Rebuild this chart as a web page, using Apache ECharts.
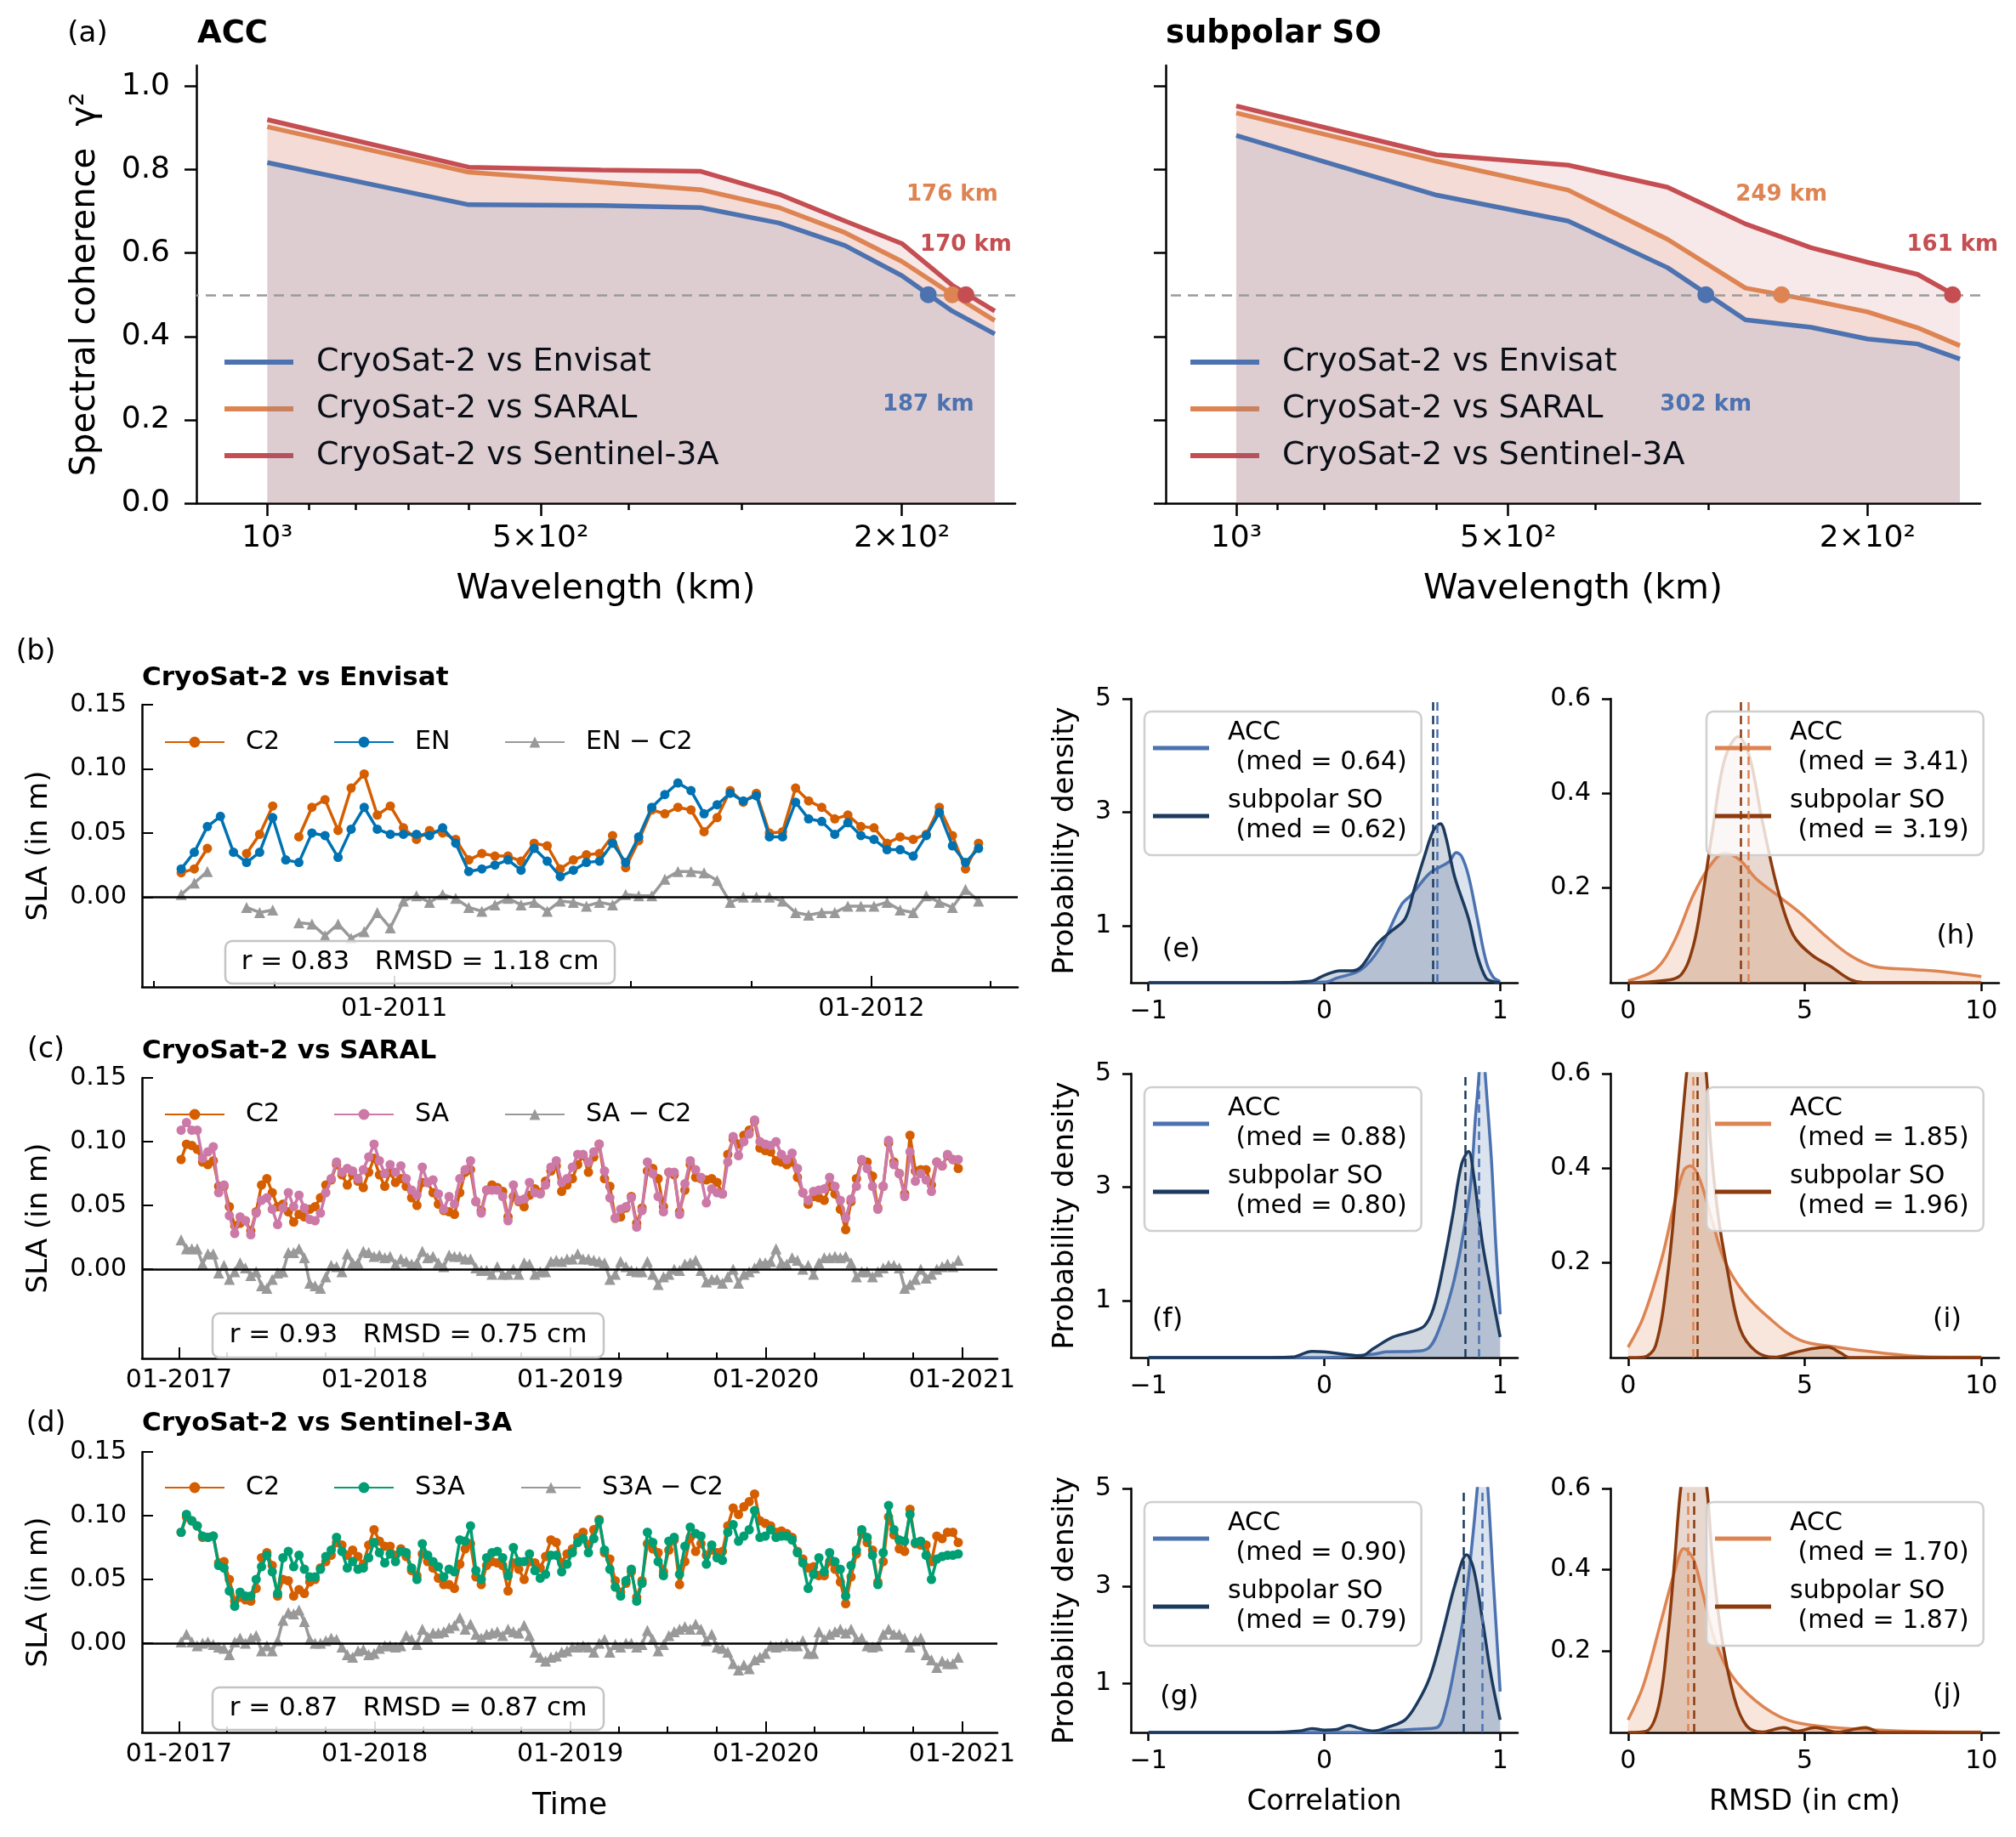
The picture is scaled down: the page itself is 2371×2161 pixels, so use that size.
<!DOCTYPE html>
<html>
<head>
<meta charset="utf-8">
<title>CryoSat-2 cross-comparison</title>
<script src="https://cdn.jsdelivr.net/npm/echarts@6.0.0/dist/echarts.min.js"></script>
<style>
html, body { margin: 0; padding: 0; background: #fff; }
#chart { width: 2371px; height: 2161px; }
</style>
</head>
<body>
<div id="chart"></div>
<script>
var FONT = '"DejaVu Sans", Verdana, sans-serif';
var DAY = 86400000;

// ---- (a) spectral coherence ----
var wavelengthKm = [1000, 600, 429, 333, 273, 231, 200, 176, 158];
var accEnvisat = [0.817, 0.716, 0.714, 0.709, 0.672, 0.618, 0.546, 0.461, 0.406];
var accSaral   = [0.903, 0.794, 0.770, 0.752, 0.709, 0.649, 0.580, 0.501, 0.438];
var accS3a     = [0.920, 0.806, 0.799, 0.796, 0.741, 0.677, 0.623, 0.523, 0.461];
var soEnvisat  = [0.882, 0.739, 0.677, 0.565, 0.440, 0.422, 0.394, 0.382, 0.346];
var soSaral    = [0.936, 0.820, 0.751, 0.633, 0.516, 0.487, 0.459, 0.421, 0.378];
var soS3a      = [0.953, 0.836, 0.811, 0.758, 0.670, 0.613, 0.578, 0.549, 0.492];
var accCrossKm = [187, 176, 170];
var soCrossKm  = [302, 249, 161];
var crossLabelY = [0.235, 0.74, 0.62];
var pairNames  = ['CryoSat-2 vs Envisat', 'CryoSat-2 vs SARAL', 'CryoSat-2 vs Sentinel-3A'];
var pairColors = ['#4c72b0', '#dd8452', '#c44e52'];
var waveTickKm = [1000, 500, 200];
var waveTickLabels = ['10³', '5×10²', '2×10²'];
var waveMinorKm = [900, 800, 700, 600, 400, 300];
var coherenceTicks = [0, 0.2, 0.4, 0.6, 0.8, 1.0];

// ---- (b) CryoSat-2 vs Envisat, 10-day samples from 2010-07-22 ----
var bStart = [2010, 7, 22];
var bC2 = [0.019,0.022,0.038,null,null,0.034,0.049,0.071,null,0.047,
  0.070,0.076,0.052,0.085,0.096,0.064,0.071,0.054,0.045,0.052,
  0.050,0.045,0.029,0.034,0.032,0.032,0.028,0.042,0.040,0.022,
  0.029,0.033,0.034,0.048,0.023,0.044,0.068,0.065,0.070,0.068,
  0.051,0.062,0.083,0.074,0.081,0.050,0.051,0.085,0.075,0.070,
  0.061,0.064,0.055,0.054,0.042,0.047,0.045,0.049,0.070,0.048,
  0.022,0.042];
var bEN = [0.022,0.035,0.055,0.063,0.035,0.027,0.035,0.062,0.029,0.027,
  0.050,0.048,0.031,0.053,0.070,0.053,0.049,0.049,0.049,0.048,
  0.054,0.042,0.020,0.022,0.025,0.029,0.021,0.038,0.028,0.016,
  0.021,0.027,0.028,0.042,0.027,0.047,0.070,0.080,0.089,0.083,
  0.065,0.072,0.081,0.075,0.079,0.047,0.047,0.074,0.061,0.059,
  0.049,0.058,0.048,0.045,0.037,0.037,0.032,0.048,0.066,0.040,
  0.027,0.038];
var bDiff = [0.002,0.011,0.020,null,null,-0.008,-0.012,-0.010,null,-0.020,
  -0.021,-0.030,-0.021,-0.032,-0.027,-0.012,-0.024,-0.003,0.001,-0.004,
  0.002,-0.001,-0.008,-0.011,-0.006,-0.001,-0.006,-0.004,-0.011,-0.003,
  -0.004,-0.007,-0.004,-0.006,0.002,0.001,0.001,0.014,0.020,0.020,
  0.019,0.013,-0.004,0.000,0.000,0.000,-0.003,-0.012,-0.014,-0.012,
  -0.012,-0.007,-0.007,-0.007,-0.004,-0.010,-0.012,0.001,-0.004,-0.008,
  0.006,-0.003];
var bRange = [[2010, 6, 22], [2012, 4, 22]];
var bYearTicks = [[2011, 1], [2012, 1]];
var bQuarterTicks = [[2010, 7], [2010, 10], [2011, 1], [2011, 4], [2011, 7], [2011, 10], [2012, 1], [2012, 4]];

// ---- (c) CryoSat-2 vs SARAL and (d) CryoSat-2 vs Sentinel-3A, 10-day samples from 2017-01-05 ----
var cdStart = [2017, 1, 5];
var cC2 = [0.086,0.098,0.097,0.094,0.084,0.082,0.085,0.065,0.065,0.049,
  0.034,0.036,0.038,0.030,0.045,0.066,0.071,0.060,0.049,0.051,
  0.045,0.037,0.043,0.041,0.047,0.049,0.056,0.066,0.070,0.082,
  0.074,0.066,0.074,0.069,0.064,0.076,0.087,0.074,0.065,0.076,
  0.068,0.071,0.065,0.056,0.050,0.068,0.068,0.060,0.051,0.046,
  0.045,0.043,0.060,0.076,0.078,0.053,0.046,0.062,0.066,0.064,
  0.061,0.041,0.057,0.053,0.049,0.058,0.063,0.060,0.069,0.077,
  0.081,0.061,0.066,0.071,0.082,0.089,0.076,0.088,0.098,0.071,
  0.065,0.040,0.041,0.048,0.057,0.036,0.048,0.077,0.079,0.071,
  0.049,0.076,0.074,0.045,0.062,0.082,0.072,0.071,0.070,0.071,
  0.068,0.059,0.090,0.102,0.098,0.105,0.109,0.116,0.095,0.093,
  0.092,0.085,0.084,0.082,0.084,0.072,0.060,0.051,0.057,0.056,
  0.054,0.065,0.059,0.047,0.031,0.053,0.071,0.085,0.084,0.073,
  0.048,0.065,0.099,0.084,0.075,0.059,0.105,0.077,0.078,0.078,
  0.066,0.084,0.081,0.089,0.086,0.079];
var cSA = [0.109,0.115,0.109,0.109,0.087,0.092,0.096,0.060,0.066,0.042,
  0.028,0.041,0.038,0.027,0.044,0.054,0.056,0.047,0.035,0.048,
  0.060,0.049,0.058,0.048,0.039,0.038,0.044,0.060,0.071,0.084,
  0.076,0.079,0.077,0.071,0.078,0.088,0.098,0.085,0.075,0.082,
  0.076,0.081,0.071,0.062,0.058,0.080,0.068,0.070,0.059,0.047,
  0.057,0.051,0.071,0.078,0.085,0.053,0.044,0.062,0.062,0.062,
  0.057,0.038,0.066,0.054,0.055,0.068,0.060,0.059,0.066,0.080,
  0.085,0.068,0.071,0.080,0.090,0.090,0.084,0.092,0.098,0.077,
  0.056,0.040,0.047,0.049,0.056,0.033,0.046,0.084,0.075,0.057,
  0.045,0.076,0.076,0.043,0.067,0.085,0.078,0.072,0.052,0.063,
  0.060,0.059,0.084,0.104,0.089,0.100,0.106,0.117,0.100,0.098,
  0.097,0.100,0.090,0.086,0.091,0.079,0.060,0.054,0.061,0.062,
  0.063,0.072,0.065,0.054,0.040,0.055,0.065,0.086,0.079,0.065,
  0.047,0.065,0.101,0.082,0.075,0.057,0.092,0.069,0.075,0.070,
  0.061,0.084,0.081,0.090,0.086,0.086];
var cDiff = [0.023,0.016,0.016,0.016,0.004,0.012,0.012,-0.003,0.003,-0.008,
  -0.002,0.005,0.001,-0.005,-0.002,-0.013,-0.015,-0.008,-0.003,-0.002,
  0.013,0.013,0.016,0.009,-0.011,-0.013,-0.015,-0.006,0.003,0.002,
  -0.002,0.012,0.005,0.005,0.014,0.013,0.010,0.011,0.009,0.010,
  0.004,0.008,0.006,0.004,0.005,0.014,0.009,0.010,0.005,0.002,
  0.011,0.010,0.010,0.008,0.008,0.001,-0.001,-0.001,-0.004,0.002,
  -0.004,-0.004,0.000,-0.004,0.005,0.004,-0.004,-0.002,-0.002,0.006,
  0.007,0.006,0.008,0.008,0.012,0.008,0.008,0.007,0.006,0.005,
  -0.008,-0.004,0.006,0.002,-0.001,-0.002,-0.002,0.006,-0.004,-0.012,
  -0.006,-0.004,0.000,-0.001,0.004,0.005,0.007,-0.001,-0.010,-0.008,
  -0.008,-0.011,-0.006,0.000,-0.011,-0.004,-0.002,0.001,0.005,0.005,
  0.006,0.016,0.005,0.004,0.009,0.007,0.000,0.003,-0.004,0.005,
  0.009,0.009,0.010,0.009,0.010,0.005,-0.006,-0.002,-0.002,-0.006,
  -0.002,0.001,0.003,0.003,0.001,-0.015,-0.012,-0.008,0.000,-0.007,
  -0.004,0.000,0.002,0.004,0.002,0.007];
var dC2 = [0.087,0.099,0.096,0.092,0.083,0.083,0.084,0.063,0.064,0.050,
  0.033,0.036,0.034,0.033,0.043,0.067,0.071,0.061,0.037,0.050,
  0.049,0.037,0.042,0.039,0.048,0.050,0.059,0.064,0.069,0.079,
  0.077,0.069,0.073,0.068,0.062,0.077,0.089,0.080,0.076,0.076,
  0.069,0.074,0.068,0.057,0.053,0.070,0.064,0.059,0.051,0.046,
  0.046,0.043,0.062,0.074,0.078,0.052,0.046,0.061,0.064,0.063,
  0.061,0.041,0.063,0.058,0.050,0.064,0.063,0.059,0.068,0.081,
  0.079,0.063,0.070,0.074,0.083,0.087,0.077,0.089,0.097,0.071,
  0.066,0.049,0.040,0.047,0.056,0.036,0.049,0.078,0.074,0.071,
  0.056,0.073,0.081,0.046,0.064,0.083,0.072,0.078,0.069,0.073,
  0.071,0.072,0.092,0.106,0.101,0.107,0.111,0.117,0.096,0.094,
  0.092,0.087,0.088,0.086,0.083,0.072,0.066,0.059,0.060,0.053,
  0.053,0.064,0.058,0.048,0.031,0.052,0.070,0.086,0.079,0.073,
  0.048,0.064,0.099,0.085,0.074,0.072,0.105,0.078,0.077,0.077,
  0.064,0.084,0.082,0.087,0.087,0.079];
var dS3A = [0.087,0.101,0.096,0.092,0.084,0.083,0.084,0.061,0.059,0.041,
  0.029,0.040,0.037,0.037,0.050,0.060,0.069,0.056,0.039,0.067,
  0.072,0.060,0.069,0.058,0.052,0.052,0.058,0.068,0.073,0.083,
  0.072,0.059,0.064,0.058,0.059,0.067,0.079,0.071,0.063,0.070,
  0.064,0.072,0.071,0.059,0.050,0.078,0.069,0.064,0.060,0.052,
  0.058,0.056,0.081,0.080,0.092,0.057,0.050,0.067,0.071,0.072,
  0.067,0.053,0.075,0.064,0.064,0.070,0.057,0.051,0.054,0.069,
  0.069,0.056,0.062,0.071,0.079,0.082,0.071,0.082,0.096,0.073,
  0.058,0.044,0.037,0.049,0.058,0.033,0.047,0.087,0.079,0.064,
  0.053,0.080,0.083,0.054,0.076,0.091,0.086,0.084,0.062,0.077,
  0.067,0.065,0.087,0.093,0.080,0.084,0.089,0.104,0.083,0.084,
  0.089,0.083,0.084,0.084,0.081,0.071,0.063,0.043,0.054,0.067,
  0.056,0.071,0.064,0.058,0.037,0.061,0.073,0.089,0.083,0.069,
  0.046,0.071,0.108,0.089,0.081,0.080,0.101,0.079,0.080,0.069,
  0.050,0.066,0.068,0.069,0.069,0.070];
var dDiff = [0.001,0.007,0.001,-0.002,0.000,0.001,-0.001,-0.003,-0.004,-0.009,
  0.001,0.004,0.000,0.004,0.006,-0.006,-0.002,-0.006,0.002,0.018,
  0.024,0.023,0.026,0.017,0.003,0.000,0.000,0.002,0.004,0.003,
  -0.003,-0.009,-0.011,-0.006,-0.005,-0.009,-0.008,-0.004,-0.002,-0.002,
  -0.003,-0.002,0.006,0.003,-0.001,0.011,0.005,0.008,0.008,0.009,
  0.012,0.014,0.020,0.011,0.015,0.007,0.004,0.007,0.008,0.009,
  0.006,0.011,0.009,0.008,0.014,0.006,-0.007,-0.011,-0.014,-0.011,
  -0.010,-0.007,-0.006,-0.003,-0.003,-0.002,-0.003,-0.007,0.000,0.003,
  -0.007,-0.001,-0.003,0.000,0.000,-0.003,-0.001,0.010,0.003,-0.006,
  -0.001,0.006,0.009,0.011,0.013,0.011,0.015,0.011,0.002,0.007,
  -0.003,-0.004,-0.007,-0.016,-0.021,-0.017,-0.020,-0.013,-0.011,-0.008,
  -0.002,-0.003,-0.002,0.000,-0.002,-0.002,0.002,-0.008,-0.008,0.009,
  0.003,0.007,0.009,0.011,0.008,0.011,0.003,0.004,-0.002,-0.003,
  -0.002,0.007,0.011,0.007,0.007,0.004,-0.003,0.002,0.004,-0.009,
  -0.013,-0.019,-0.014,-0.016,-0.016,-0.011];
var cdRange = [[2016, 10, 24], [2021, 3, 8]];
var cdYearTicks = [[2017, 1], [2018, 1], [2019, 1], [2020, 1], [2021, 1]];
var cdQuarterTicks = [];
for (var yr = 2017; yr <= 2021; yr++) {
  [1, 4, 7, 10].forEach(function (m) { if (yr < 2021 || m === 1) cdQuarterTicks.push([yr, m]); });
}
var slaTicks = [0, 0.05, 0.10, 0.15];

// ---- (e)-(j) densities of correlation and RMSD ----
var eAcc = [[-1,0],[-0.5,0],[0,0.01],[0.07,0.08],[0.21,0.23],[0.32,0.63],[0.44,1.38],[0.5,1.56],[0.6,1.93],[0.71,2.13],[0.75,2.29],[0.78,2.23],[0.82,1.88],[0.87,1.13],[0.92,0.38],[0.96,0.1],[1.0,0.02]];
var eSo = [[-1,0],[-0.3,0],[-0.07,0.03],[0,0.13],[0.09,0.21],[0.16,0.21],[0.21,0.28],[0.3,0.68],[0.37,0.88],[0.46,1.13],[0.51,1.63],[0.57,2.23],[0.62,2.68],[0.66,2.8],[0.69,2.58],[0.74,1.88],[0.82,1.13],[0.87,0.48],[0.92,0.08],[0.96,0.02],[1.0,0]];
var fAcc = [[-1,0],[0,0],[0.28,0.06],[0.35,0.1],[0.5,0.11],[0.59,0.16],[0.66,0.56],[0.73,1.26],[0.78,2.0],[0.83,3.0],[0.86,4.25],[0.88,5.0],[0.895,6.0],[0.915,5.0],[0.95,3.5],[0.975,2.0],[1.0,0.76]];
var fSo = [[-1,0],[-0.3,0],[-0.18,0.01],[-0.07,0.11],[0,0.1],[0.11,0.06],[0.21,0.03],[0.28,0.16],[0.39,0.36],[0.5,0.46],[0.57,0.56],[0.62,0.86],[0.67,1.51],[0.73,2.5],[0.78,3.4],[0.82,3.63],[0.85,3.2],[0.9,2.0],[0.96,1.0],[1.0,0.36]];
var gAcc = [[-1,0],[0.2,0],[0.35,0.03],[0.53,0.07],[0.64,0.1],[0.69,0.49],[0.745,1.42],[0.8,2.58],[0.84,3.86],[0.87,5.0],[0.9,6.3],[0.93,5.0],[0.96,3.16],[0.98,2.0],[1.0,0.84]];
var gSo = [[-1,0],[-0.3,0],[-0.14,0.03],[-0.07,0.08],[0,0.05],[0.07,0.06],[0.14,0.145],[0.195,0.09],[0.28,0.03],[0.37,0.12],[0.46,0.26],[0.53,0.61],[0.6,1.13],[0.67,2.0],[0.745,3.05],[0.81,3.64],[0.85,3.34],[0.9,2.29],[0.95,1.13],[1.0,0.26]];
var hAcc = [[0,0.004],[0.78,0.028],[1.31,0.088],[1.84,0.184],[2.29,0.244],[2.73,0.274],[3.17,0.259],[3.62,0.22],[4.24,0.184],[4.86,0.148],[5.57,0.1],[6.28,0.058],[6.99,0.034],[8.05,0.028],[8.94,0.023],[10,0.013]];
var hSo = [[0,0],[0.96,0.004],[1.49,0.016],[1.84,0.076],[2.11,0.184],[2.38,0.316],[2.73,0.471],[3.12,0.52],[3.44,0.477],[3.79,0.345],[4.24,0.196],[4.68,0.1],[5.21,0.058],[5.74,0.034],[6.28,0.007],[6.63,0.001],[10,0]];
var iAcc = [[0,0.022],[0.43,0.085],[0.96,0.211],[1.31,0.325],[1.58,0.396],[1.76,0.405],[2.02,0.378],[2.38,0.289],[2.73,0.205],[3.26,0.139],[3.97,0.085],[4.86,0.037],[5.92,0.022],[7.16,0.01],[8.4,0.002],[10,0.001]];
var iSo = [[0,0],[0.43,0.001],[0.78,0.025],[1.13,0.181],[1.4,0.39],[1.58,0.54],[1.67,0.61],[1.9,0.76],[2.2,0.61],[2.34,0.45],[2.55,0.3],[2.82,0.181],[3.17,0.061],[3.62,0.013],[4.15,0.001],[4.68,0.01],[5.21,0.019],[5.66,0.022],[6.01,0.01],[6.28,0],[10,0]];
var jAcc = [[0,0.031],[0.43,0.115],[0.96,0.282],[1.31,0.393],[1.58,0.452],[1.84,0.428],[2.11,0.344],[2.46,0.226],[2.91,0.143],[3.62,0.077],[4.5,0.031],[5.57,0.014],[6.81,0.007],[8.4,0.002],[10,0.001]];
var jSo = [[0,0],[0.51,0.003],[0.87,0.066],[1.13,0.24],[1.31,0.414],[1.49,0.6],[1.85,0.82],[2.23,0.6],[2.38,0.435],[2.64,0.24],[3.0,0.087],[3.35,0.017],[3.79,0.001],[4.41,0.012],[4.77,0.003],[5.3,0.012],[5.92,0.001],[6.72,0.012],[7.16,0],[10,0]];
// medians [ACC, subpolar SO]
var eMed = [0.64, 0.62], fMed = [0.88, 0.80], gMed = [0.90, 0.79];
var hMed = [3.41, 3.19], iMed = [1.85, 1.96], jMed = [1.70, 1.87];
var corrTicks = [-1, 0, 1], rmsdTicks = [0, 5, 10];
var corrDensTicks = [1, 3, 5], rmsdDensTicks = [0.2, 0.4, 0.6];
var stats = ['r = 0.83   RMSD = 1.18 cm', 'r = 0.93   RMSD = 0.75 cm', 'r = 0.87   RMSD = 0.87 cm'];

// ---- helpers ----
function utc(a) { return Date.UTC(a[0], a[1] - 1, a[2] || 1); }
function tenDaySeries(start, n) {
  var t0 = utc(start), out = [];
  for (var i = 0; i < n; i++) out.push(t0 + i * 10 * DAY);
  return out;
}
function pairs(times, vals) {
  return vals.map(function (v, i) { return [times[i], v === null ? '-' : v]; });
}
function monthYear(v) {
  var d = new Date(v), m = d.getUTCMonth() + 1;
  return (m < 10 ? '0' : '') + m + '-' + d.getUTCFullYear();
}
function axLine(show) { return { show: show, onZero: false, lineStyle: { color: '#000', width: 2.5 } }; }
function txt(size, weight) { return { color: '#000', fontFamily: FONT, fontSize: size, fontWeight: weight || 'normal' }; }

var logMin = Math.log10(150), logMax = Math.log10(1197);

function waveAxis(gridIndex, major) {
  return {
    type: 'value', gridIndex: gridIndex, position: 'bottom', offset: 0, inverse: true,
    min: logMin, max: logMax,
    axisLine: axLine(major),
    axisTick: { show: true, length: major ? 15 : 8, lineStyle: { color: '#000', width: 2.5 },
      customValues: (major ? waveTickKm : waveMinorKm).map(function (w) { return Math.log10(w); }) },
    axisLabel: { show: major, margin: 24,
      customValues: waveTickKm.map(function (w) { return Math.log10(w); }),
      formatter: function (v) {
        for (var i = 0; i < waveTickKm.length; i++) {
          if (Math.abs(Math.log10(waveTickKm[i]) - v) < 1e-6) return waveTickLabels[i];
        }
        return '';
      }, color: '#000', fontFamily: FONT, fontSize: 36 },
    splitLine: { show: false },
    name: major ? 'Wavelength (km)' : '', nameLocation: 'middle', nameGap: 81, nameTextStyle: txt(41)
  };
}
function coherenceAxis(gridIndex, labels) {
  return {
    type: 'value', gridIndex: gridIndex, min: 0, max: 1.05,
    axisLine: axLine(true),
    axisTick: { show: true, length: 14, lineStyle: { color: '#000', width: 2.5 }, customValues: coherenceTicks },
    axisLabel: { show: labels, customValues: coherenceTicks, margin: 31,
      formatter: function (v) { return v.toFixed(1); }, color: '#000', fontFamily: FONT, fontSize: 36 },
    splitLine: { show: false },
    name: labels ? 'Spectral coherence  γ²' : '', nameLocation: 'middle', nameGap: 110, nameTextStyle: txt(40)
  };
}
// time runs on a linear value axis in milliseconds
function timeAxis(gridIndex, range, ticks, major, name) {
  var vals = ticks.map(utc);
  return {
    type: 'value', gridIndex: gridIndex, position: 'bottom', offset: 0,
    min: utc(range[0]), max: utc(range[1]),
    axisLine: axLine(major),
    axisTick: { show: true, inside: true, length: major ? 13 : 7, lineStyle: { color: '#000', width: 2 }, customValues: vals },
    axisLabel: { show: major, customValues: vals, formatter: monthYear, margin: 11,
      color: '#000', fontFamily: FONT, fontSize: 30 },
    splitLine: { show: false },
    name: name || '', nameLocation: 'middle', nameGap: 69, nameTextStyle: txt(36)
  };
}
function slaAxis(gridIndex) {
  return {
    type: 'value', gridIndex: gridIndex, min: -0.07, max: 0.15,
    axisLine: axLine(true),
    axisTick: { show: true, inside: true, length: 13, lineStyle: { color: '#000', width: 2 }, customValues: slaTicks },
    axisLabel: { customValues: slaTicks, margin: 18, formatter: function (v) { return v.toFixed(2); },
      color: '#000', fontFamily: FONT, fontSize: 30 },
    splitLine: { show: false },
    name: 'SLA (in m)', nameLocation: 'middle', nameGap: 104, nameTextStyle: txt(34)
  };
}
function distAxis(gridIndex, min, max, ticks, name) {
  return {
    type: 'value', gridIndex: gridIndex, min: min, max: max,
    axisLine: axLine(true),
    axisTick: { show: true, length: 10, lineStyle: { color: '#000', width: 2.5 }, customValues: ticks },
    axisLabel: { customValues: ticks, margin: 19,
      formatter: function (v) { return v < 0 ? '\u2212' + Math.abs(v) : String(v); },
      color: '#000', fontFamily: FONT, fontSize: 30 },
    splitLine: { show: false },
    name: name || '', nameLocation: 'middle', nameGap: 66, nameTextStyle: txt(33)
  };
}
function densAxis(gridIndex, max, ticks, digits, name) {
  return {
    type: 'value', gridIndex: gridIndex, min: 0, max: max,
    axisLine: axLine(true),
    axisTick: { show: true, length: 10, lineStyle: { color: '#000', width: 2.5 }, customValues: ticks },
    axisLabel: { customValues: ticks, margin: 23,
      formatter: function (v) { return v.toFixed(digits); }, color: '#000', fontFamily: FONT, fontSize: 30 },
    splitLine: { show: false },
    name: name || '', nameLocation: 'middle', nameGap: 60, nameTextStyle: txt(34)
  };
}

function coherenceSeries(axisIndex, name, color, vals, z, withRef) {
  var s = {
    type: 'line', name: name, xAxisIndex: axisIndex * 2, yAxisIndex: axisIndex, z: z,
    data: wavelengthKm.map(function (w, i) { return [Math.log10(w), vals[i]]; }),
    symbol: 'none', lineStyle: { color: color, width: 5.5 }, itemStyle: { color: color },
    areaStyle: { color: color, opacity: 0.13 }, silent: true
  };
  if (withRef) {
    s.markLine = { silent: true, symbol: 'none', label: { show: false },
      lineStyle: { color: '#9a9a9a', type: [12, 8], width: 2.5 }, data: [{ yAxis: 0.5 }] };
  }
  return s;
}
function crossingSeries(axisIndex, km, color, labelY) {
  var x = Math.log10(km);
  return {
    type: 'scatter', xAxisIndex: axisIndex * 2, yAxisIndex: axisIndex, z: 10, silent: true,
    symbolSize: 20, itemStyle: { color: color, opacity: 1 },
    data: [[x, 0.5], { value: [x, labelY], symbolSize: 0,
      label: { show: true, position: 'inside', formatter: km + ' km', color: color, opacity: 1,
        fontFamily: FONT, fontSize: 26, fontWeight: 'bold' } }]
  };
}
function slaSeries(xi, yi, name, color, times, vals, symbol, z, zeroLine) {
  var s = {
    type: 'line', name: name, xAxisIndex: xi, yAxisIndex: yi, z: z,
    data: pairs(times, vals), symbol: symbol, symbolSize: symbol === 'triangle' ? 13 : 11,
    showSymbol: true, showAllSymbol: true, connectNulls: false,
    lineStyle: { color: color, width: 3.5 }, itemStyle: { color: color, opacity: 1 }, silent: true
  };
  if (zeroLine) {
    s.markLine = { silent: true, symbol: 'none', label: { show: false },
      lineStyle: { color: '#000', type: 'solid', width: 2.5 }, data: [{ yAxis: 0 }] };
  }
  return s;
}
function kdeSeries(xi, yi, name, color, pts, med) {
  return {
    type: 'line', name: name, xAxisIndex: xi, yAxisIndex: yi, data: pts, smooth: 0.35,
    symbol: 'none', lineStyle: { color: color, width: 3.5 }, itemStyle: { color: color },
    areaStyle: { color: color, opacity: 0.2 }, silent: true,
    markLine: { silent: true, symbol: 'none', label: { show: false },
      lineStyle: { color: color, type: [10, 6], width: 2.5 }, data: [{ xAxis: med }] }
  };
}
function medName(region, v) { return region + '\n (med = ' + v.toFixed(2) + ')'; }

function slaLegend(name, left, rowY) {
  return { left: left, top: rowY - 17, padding: 0, itemWidth: 70, itemHeight: 16, data: [name],
    selectedMode: false, textStyle: { color: '#000', fontFamily: FONT, fontSize: 30, lineHeight: 34, padding: [0, 0, 0, 20] } };
}
function boxLegend(names, left, top) {
  return { left: left, top: top, orient: 'vertical', padding: [8, 17, 11, 10], itemGap: 10,
    icon: 'rect', itemWidth: 66, itemHeight: 5, data: names, selectedMode: false,
    backgroundColor: 'rgba(255,255,255,0.8)', borderColor: '#cfcfcf', borderWidth: 2.5, borderRadius: 8,
    textStyle: { color: '#000', fontFamily: FONT, fontSize: 30, lineHeight: 35, padding: [0, 0, 0, 17] } };
}
function label(x, y, text, size, weight, align) {
  return { type: 'text', x: x, y: y, z: 100, silent: true,
    style: { text: text, font: (weight || 'normal') + ' ' + size + 'px ' + FONT, fill: '#000',
      align: align || 'left', verticalAlign: 'middle', textAlign: align || 'left', textVerticalAlign: 'middle' } };
}
function statBox(x, y, w, h, text) {
  return [
    { type: 'rect', z: 99, silent: true, shape: { x: x, y: y, width: w, height: h, r: 8 },
      style: { fill: 'rgba(255,255,255,0.85)', stroke: '#c4c4c4', lineWidth: 2.5 } },
    label(x + w / 2, y + h / 2, text, 31, 'normal', 'center')
  ];
}

// ---- layout ----
var grids = [
  { left: 231, top: 77, width: 963, height: 515 },    // (a) ACC
  { left: 1371, top: 77, width: 958, height: 515 },   // (a) subpolar SO
  { left: 167, top: 829, width: 1030, height: 332 },  // (b)
  { left: 167, top: 1268, width: 1006, height: 330 }, // (c)
  { left: 167, top: 1708, width: 1006, height: 330 }, // (d)
  { left: 1330, top: 822, width: 455, height: 334 },  // (e)
  { left: 1894, top: 822, width: 457, height: 334 },  // (h)
  { left: 1330, top: 1263, width: 455, height: 334 }, // (f)
  { left: 1894, top: 1263, width: 457, height: 334 }, // (i)
  { left: 1330, top: 1751, width: 455, height: 287 }, // (g)
  { left: 1894, top: 1751, width: 457, height: 287 }  // (j)
];
grids.forEach(function (g) { g.outerBoundsMode = 'none'; g.containLabel = false; });

var xAxes = [
  waveAxis(0, true), waveAxis(0, false),
  waveAxis(1, true), waveAxis(1, false),
  timeAxis(2, bRange, bYearTicks, true), timeAxis(2, bRange, bQuarterTicks, false),
  timeAxis(3, cdRange, cdYearTicks, true), timeAxis(3, cdRange, cdQuarterTicks, false),
  timeAxis(4, cdRange, cdYearTicks, true, 'Time'), timeAxis(4, cdRange, cdQuarterTicks, false),
  distAxis(5, -1.1, 1.1, corrTicks), distAxis(6, -0.5, 10.5, rmsdTicks),
  distAxis(7, -1.1, 1.1, corrTicks), distAxis(8, -0.5, 10.5, rmsdTicks),
  distAxis(9, -1.1, 1.1, corrTicks, 'Correlation'), distAxis(10, -0.5, 10.5, rmsdTicks, 'RMSD (in cm)')
];
var yAxes = [
  coherenceAxis(0, true), coherenceAxis(1, false),
  slaAxis(2), slaAxis(3), slaAxis(4),
  densAxis(5, 5, corrDensTicks, 0, 'Probability density'), densAxis(6, 0.6, rmsdDensTicks, 1),
  densAxis(7, 5, corrDensTicks, 0, 'Probability density'), densAxis(8, 0.6, rmsdDensTicks, 1),
  densAxis(9, 5, corrDensTicks, 0, 'Probability density'), densAxis(10, 0.6, rmsdDensTicks, 1)
];

var bTimes = tenDaySeries(bStart, bEN.length);
var cdTimes = tenDaySeries(cdStart, cSA.length);
var accBlue = '#4c72b0', soNavy = '#1c3a5e', accOrange = '#dd8452', soBrown = '#8b3b0e';
var c2Color = '#d55e00', greyColor = '#999999';

var series = [
  coherenceSeries(0, pairNames[0], pairColors[0], accEnvisat, 4, true),
  coherenceSeries(0, pairNames[1], pairColors[1], accSaral, 3),
  coherenceSeries(0, pairNames[2], pairColors[2], accS3a, 2),
  coherenceSeries(1, pairNames[0], pairColors[0], soEnvisat, 4, true),
  coherenceSeries(1, pairNames[1], pairColors[1], soSaral, 3),
  coherenceSeries(1, pairNames[2], pairColors[2], soS3a, 2)
];
for (var k = 0; k < 3; k++) {
  series.push(crossingSeries(0, accCrossKm[k], pairColors[k], crossLabelY[k]));
  series.push(crossingSeries(1, soCrossKm[k], pairColors[k], crossLabelY[k]));
}
series.push(
  slaSeries(4, 2, 'C2', c2Color, bTimes, bC2, 'circle', 2),
  slaSeries(4, 2, 'EN', '#0072b2', bTimes, bEN, 'circle', 3),
  slaSeries(4, 2, 'EN \u2212 C2', greyColor, bTimes, bDiff, 'triangle', 4, true),
  slaSeries(6, 3, 'C2', c2Color, cdTimes, cC2, 'circle', 2),
  slaSeries(6, 3, 'SA', '#cc79a7', cdTimes, cSA, 'circle', 3),
  slaSeries(6, 3, 'SA \u2212 C2', greyColor, cdTimes, cDiff, 'triangle', 4, true),
  slaSeries(8, 4, 'C2', c2Color, cdTimes, dC2, 'circle', 2),
  slaSeries(8, 4, 'S3A', '#009e73', cdTimes, dS3A, 'circle', 3),
  slaSeries(8, 4, 'S3A \u2212 C2', greyColor, cdTimes, dDiff, 'triangle', 4, true),
  kdeSeries(10, 5, medName('ACC', eMed[0]), accBlue, eAcc, eMed[0]),
  kdeSeries(10, 5, medName('subpolar SO', eMed[1]), soNavy, eSo, eMed[1]),
  kdeSeries(11, 6, medName('ACC', hMed[0]), accOrange, hAcc, hMed[0]),
  kdeSeries(11, 6, medName('subpolar SO', hMed[1]), soBrown, hSo, hMed[1]),
  kdeSeries(12, 7, medName('ACC', fMed[0]), accBlue, fAcc, fMed[0]),
  kdeSeries(12, 7, medName('subpolar SO', fMed[1]), soNavy, fSo, fMed[1]),
  kdeSeries(13, 8, medName('ACC', iMed[0]), accOrange, iAcc, iMed[0]),
  kdeSeries(13, 8, medName('subpolar SO', iMed[1]), soBrown, iSo, iMed[1]),
  kdeSeries(14, 9, medName('ACC', gMed[0]), accBlue, gAcc, gMed[0]),
  kdeSeries(14, 9, medName('subpolar SO', gMed[1]), soNavy, gSo, gMed[1]),
  kdeSeries(15, 10, medName('ACC', jMed[0]), accOrange, jAcc, jMed[0]),
  kdeSeries(15, 10, medName('subpolar SO', jMed[1]), soBrown, jSo, jMed[1])
);

var coherenceLegend = function (left) {
  return { left: left, top: 406, orient: 'vertical', padding: 0, itemGap: 15, icon: 'rect',
    itemWidth: 81, itemHeight: 6, data: pairNames, selectedMode: false,
    textStyle: { color: '#000', fontFamily: FONT, fontSize: 38, lineHeight: 40, padding: [0, 0, 0, 22] } };
};
var legends = [
  coherenceLegend(264), coherenceLegend(1400),
  slaLegend('C2', 193, 873), slaLegend('EN', 392, 873), slaLegend('EN \u2212 C2', 593, 873),
  slaLegend('C2', 193, 1311), slaLegend('SA', 392, 1311), slaLegend('SA \u2212 C2', 593, 1311),
  slaLegend('C2', 193, 1750), slaLegend('S3A', 392, 1750), slaLegend('S3A \u2212 C2', 612, 1750),
  boxLegend([medName('ACC', eMed[0]), medName('subpolar SO', eMed[1])], 1346, 837),
  boxLegend([medName('ACC', hMed[0]), medName('subpolar SO', hMed[1])], 2007, 837),
  boxLegend([medName('ACC', fMed[0]), medName('subpolar SO', fMed[1])], 1346, 1279),
  boxLegend([medName('ACC', iMed[0]), medName('subpolar SO', iMed[1])], 2007, 1279),
  boxLegend([medName('ACC', gMed[0]), medName('subpolar SO', gMed[1])], 1346, 1767),
  boxLegend([medName('ACC', jMed[0]), medName('subpolar SO', jMed[1])], 2007, 1767)
];

var graphics = [
  label(103, 40, '(a)', 34, 'normal', 'center'),
  label(232, 40, 'ACC', 37, 'bold'),
  label(1371, 40, 'subpolar SO', 37, 'bold'),
  label(42, 767, '(b)', 33, 'normal', 'center'),
  label(167, 798, 'CryoSat-2 vs Envisat', 31, 'bold'),
  label(54, 1235, '(c)', 33, 'normal', 'center'),
  label(167, 1237, 'CryoSat-2 vs SARAL', 31, 'bold'),
  label(54, 1675, '(d)', 33, 'normal', 'center'),
  label(167, 1675, 'CryoSat-2 vs Sentinel-3A', 31, 'bold'),
  label(1389, 1118, '(e)', 32, 'normal', 'center'),
  label(2300, 1102, '(h)', 32, 'normal', 'center'),
  label(1373, 1553, '(f)', 32, 'normal', 'center'),
  label(2290, 1553, '(i)', 32, 'normal', 'center'),
  label(1387, 1997, '(g)', 32, 'normal', 'center'),
  label(2290, 1995, '(j)', 32, 'normal', 'center')
].concat(statBox(265, 1107, 458, 50, stats[0]))
 .concat(statBox(250, 1545, 460, 52, stats[1]))
 .concat(statBox(250, 1985, 460, 50, stats[2]));

var chart = echarts.init(document.getElementById('chart'), null, { renderer: 'canvas' });
chart.setOption({
  animation: false,
  backgroundColor: '#ffffff',
  textStyle: { fontFamily: FONT },
  grid: grids,
  xAxis: xAxes,
  yAxis: yAxes,
  legend: legends,
  series: series,
  graphic: graphics
});
</script>
</body>
</html>
